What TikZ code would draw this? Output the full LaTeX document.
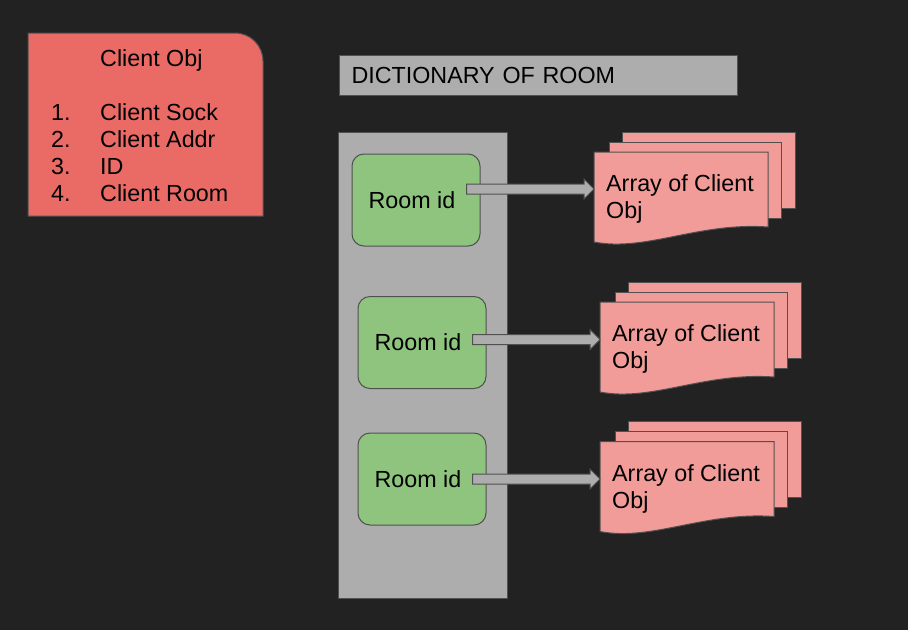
\documentclass[tikz,border=0pt]{standalone}
\usepackage{fontspec}
\setmainfont{Liberation Sans}
\usetikzlibrary{calc}
\definecolor{bgc}{HTML}{222222}
\definecolor{clientc}{HTML}{EA6B66}
\definecolor{docc}{HTML}{F19C99}
\definecolor{roomc}{HTML}{8EC47E}
\definecolor{grayc}{HTML}{ADADAD}
\definecolor{strokec}{HTML}{505050}
\tikzset{
  bigfont/.style={font=\fontsize{23.3}{27}\selectfont},
  lbl/.style={bigfont, inner sep=0pt, anchor=base west, text=black},
  clientst/.style={draw=strokec, line width=1pt, fill=clientc},
  hdrst/.style={draw=strokec, line width=1pt, fill=grayc, anchor=north west,
    minimum width=398pt, minimum height=40pt, text width=374pt, align=left,
    inner xsep=12pt, inner ysep=0pt, bigfont},
  colst/.style={draw=strokec, line width=1pt, fill=grayc, anchor=north west,
    minimum width=169pt, minimum height=466pt, inner sep=0pt},
  roomst/.style={draw=strokec, line width=1pt, fill=roomc, rounded corners=12pt,
    minimum width=128pt, minimum height=92pt, inner sep=0pt, bigfont},
  docst/.style={draw=strokec, line width=1pt, fill=docc},
  doctext/.style={bigfont, inner sep=0pt, anchor=north west, align=left},
  arrst/.style={draw=strokec, line width=1pt, fill=grayc},
}
\newcommand\blockarr[2]{%
  \draw[arrst] let \p1=(#1), \p2=(#2) in
    (\x1,\y1+5pt) -- (\x2-10pt,\y1+5pt) -- (\x2-10pt,\y1+10pt) -- (\x2,\y1)
    -- (\x2-10pt,\y1-10pt) -- (\x2-10pt,\y1-5pt) -- (\x1,\y1-5pt) -- cycle;}
\newcommand\multidoc[4]{%
  \coordinate (#1) at (#2,#3);
  \draw[docst] ($(#1)+(28,-20)$) rectangle ($(#1)+(201,56)$);
  \draw[docst] ($(#1)+(15,-10)$) rectangle ($(#1)+(187,66)$);
  \draw[docst] (#1) -- ++(174,0) -- ++(0,75)
    .. controls ($(#1)+(104,70)$) and ($(#1)+(52,100)$) .. ($(#1)+(0,90)$) -- cycle;
  \node[doctext] (#1t) at ($(#1)+(12,22.5)$) {#4};}
\begin{document}
\begin{tikzpicture}[x=1pt,y=-1pt]
\fill[bgc] (0,0) rectangle (908,630);
\useasboundingbox (0,0) rectangle (908,630);
% Client Obj card
\draw[clientst] (28,216) -- (28,33) [rounded corners=28pt] -- (263,33)
  [sharp corners] -- (263,216) -- cycle;
\node[lbl] (ctitle) at (100,66) {Client Obj};
\node[lbl] (cn1) at (51,120) {1.};
\node[lbl] (cn2) at (51,147) {2.};
\node[lbl] (cn3) at (51,174) {3.};
\node[lbl] (cn4) at (51,201) {4.};
\node[lbl] (ct1) at (100,120) {Client Sock};
\node[lbl] (ct2) at (100,147) {Client Addr};
\node[lbl] (ct3) at (100,174) {ID};
\node[lbl] (ct4) at (100,201) {Client Room};
% header
\node[hdrst] (hdr) at (339,55) {DICTIONARY OF ROOM};
% column
\node[colst] (col) at (338,132) {};
% rooms
\node[roomst] (r1) at (416,200) {Room id\kern8pt};
\node[roomst] (r2) at (422,342.5) {Room id\kern8pt};
\node[roomst] (r3) at (422,479) {Room id\kern8pt};
% documents
\multidoc{d1}{594}{152}{Array of Client\\Obj}
\multidoc{d2}{600}{302}{Array of Client\\Obj}
\multidoc{d3}{600}{441.5}{Array of Client\\Obj}
% arrows
\coordinate (a1) at ($(r1.east)+(-14,-11)$);
\coordinate (a2) at ($(r2.east)+(-14,-3)$);
\coordinate (a3) at ($(r3.east)+(-14,0)$);
\blockarr{a1}{d1 |- a1}
\blockarr{a2}{d2 |- a2}
\blockarr{a3}{d3 |- a3}
\end{tikzpicture}
\end{document}
